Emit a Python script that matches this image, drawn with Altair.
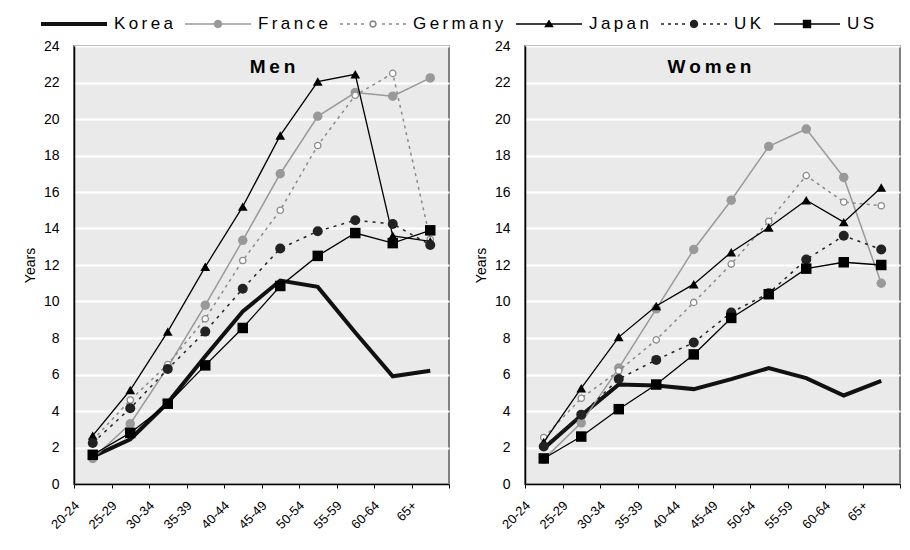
import altair as alt
import pandas as pd

ages = ["20-24", "25-29", "30-34", "35-39", "40-44", "45-49", "50-54", "55-59", "60-64", "65+"]
countries = ["Korea", "France", "Germany", "Japan", "UK", "US"]

men_korea = [1.5, 2.45, 4.45, 7.0, 9.45, 11.15, 10.8, 8.3, 5.9, 6.2]
men_france = [1.4, 3.3, 6.4, 9.8, 13.35, 17.0, 20.15, 21.45, 21.25, 22.25]
men_germany = [2.4, 4.6, 6.55, 9.05, 12.25, 15.0, 18.55, 21.3, 22.5, 13.4]
men_japan = [2.65, 5.15, 8.35, 11.9, 15.2, 19.1, 22.05, 22.45, 13.6, 13.3]
men_uk = [2.25, 4.15, 6.3, 8.35, 10.7, 12.9, 13.85, 14.45, 14.25, 13.1]
men_us = [1.6, 2.8, 4.4, 6.5, 8.55, 10.85, 12.5, 13.75, 13.2, 13.9]

women_korea = [1.95, 3.75, 5.45, 5.4, 5.2, 5.75, 6.35, 5.8, 4.85, 5.65]
women_france = [1.35, 3.35, 6.35, 9.6, 12.85, 15.55, 18.5, 19.45, 16.8, 11.0]
women_germany = [2.55, 4.7, 6.2, 7.9, 9.95, 12.05, 14.4, 16.9, 15.45, 15.25]
women_japan = [2.3, 5.25, 8.05, 9.75, 10.95, 12.7, 14.05, 15.55, 14.35, 16.25]
women_uk = [2.05, 3.8, 5.75, 6.8, 7.75, 9.4, 10.45, 12.3, 13.6, 12.85]
women_us = [1.4, 2.6, 4.1, 5.45, 7.1, 9.1, 10.4, 11.8, 12.15, 12.0]

panel_titles = ["Men", "Women"]

men = {"Korea": men_korea, "France": men_france, "Germany": men_germany,
       "Japan": men_japan, "UK": men_uk, "US": men_us}
women = {"Korea": women_korea, "France": women_france, "Germany": women_germany,
         "Japan": women_japan, "UK": women_uk, "US": women_us}


def frame(series):
    rows = []
    for c in countries:
        for i, (a, v) in enumerate(zip(ages, series[c])):
            rows.append({"country": c, "age": a, "idx": i, "years": v})
    return pd.DataFrame(rows)


FONT = "Liberation Sans"
BG = "#EAEAEA"
SP = "\u2009"
VIEW = alt.ViewBackground(fill=BG, stroke="#808080", strokeWidth=2)

styles = {
    "Korea": dict(color="#111111", width=4, dash=None, shape=None),
    "France": dict(color="#999999", width=1.5, dash=None, shape="circle", fill="#999999", size=90),
    "Germany": dict(color="#8a8a8a", width=1.5, dash=[3, 4], shape="circle", fill="#ffffff", size=40),
    "Japan": dict(color="#000000", width=1.3, dash=None, shape="triangle-up", fill="#000000", size=95),
    "UK": dict(color="#222222", width=1.5, dash=[3, 5], shape="circle", fill="#222222", size=100),
    "US": dict(color="#000000", width=1.3, dash=None, shape="square", fill="#000000", size=110),
}

# legend symbols: custom paths (unit = 12 px), line spans +-2.75 units (66 px)
U = 12.0
L = 2.75


def rect(x0, x1, h):
    return f"M{x0:.3f},{-h:.3f}L{x1:.3f},{-h:.3f}L{x1:.3f},{h:.3f}L{x0:.3f},{h:.3f}Z"


def circle(r, rev=False):
    s = 0 if rev else 1
    return f"M{r:.3f},0A{r:.3f},{r:.3f} 0 1 {s} {-r:.3f},0A{r:.3f},{r:.3f} 0 1 {s} {r:.3f},0Z"


def dashes(h, gap_center=0.45):
    d, g = 3 / U, 4 / U
    out = []
    x = -L
    while x < L:
        x1 = min(x + d, L)
        if x1 < -gap_center or x > gap_center:
            out.append(rect(x, x1, h))
        x += d + g
    return "".join(out)


thin = 0.75 / U
mr = 4.2 / U
legend_paths = [
    rect(-L, L, 2.0 / U),
    rect(-L, L, thin) + circle(mr),
    dashes(thin) + circle(mr * 0.9) + circle(mr * 0.5, rev=True),
    rect(-L, L, thin) + f"M0,{-mr*1.1:.3f}L{mr*1.15:.3f},{mr*0.8:.3f}L{-mr*1.15:.3f},{mr*0.8:.3f}Z",
    dashes(thin) + circle(mr),
    rect(-L, L, thin) + rect(-mr, mr, mr),
]
legend_colors = ["#111111", "#999999", "#8a8a8a", "#000000", "#222222", "#000000"]

legend = alt.Legend(
    title=None, orient="none", direction="horizontal", columns=6,
    legendX=-12, legendY=0,
    symbolSize=U * U * 4, symbolStrokeWidth=0, symbolOpacity=1,
    labelFont=FONT, labelFontSize=17, labelColor="#000000", labelLimit=0,
    labelOffset=28, columnPadding=12,
    labelExpr=f"join(split(datum.label, ''), '{SP}')",
)


def panel(series, title, dx):
    df = frame(series)
    base = alt.Chart(df)
    x = alt.X(
        "age:N", sort=ages, bandPosition=0.5,
        scale=alt.Scale(type="band", domain=ages, paddingInner=0, paddingOuter=0),
        axis=alt.Axis(
            title=None, labelAngle=-45, labelAlign="right", labelBaseline="middle",
            labelFont=FONT, labelFontSize=13, labelColor="#000000", labelPadding=15,
            labelOffset=-16, tickBand="extent", tickSize=4, tickColor="#000000",
            domainColor="#000000", domainWidth=1.5, grid=False, labelOverlap=False,
        ),
    )
    y = alt.Y(
        "years:Q",
        scale=alt.Scale(domain=[0, 24], nice=False, zero=True),
        axis=alt.Axis(
            values=list(range(0, 25, 2)), title="Years", titleFont=FONT, titleFontSize=14,
            titleFontWeight="normal", titleColor="#000000", titlePadding=6,
            labelFont=FONT, labelFontSize=14, labelColor="#000000", labelPadding=15,
            tickSize=0, domainColor="#000000", domainWidth=1.5,
            grid=True, gridColor="#ffffff", gridWidth=2,
        ),
    )
    layers = []
    for c in countries:
        st = styles[c]
        sub = base.transform_filter(alt.datum.country == c)
        lk = dict(color=st["color"], strokeWidth=st["width"])
        if st["dash"]:
            lk["strokeDash"] = st["dash"]
        layers.append(sub.mark_line(**lk).encode(x=x, y=y, order="idx:Q"))
        if st["shape"]:
            layers.append(
                sub.mark_point(
                    shape=st["shape"], filled=True, fill=st["fill"], stroke=st["color"],
                    strokeWidth=1.3 if c == "Germany" else 0, size=st["size"], opacity=1,
                ).encode(x=x, y=y)
            )
    tdf = pd.DataFrame({"t": [SP.join(title)]})
    layers.append(
        alt.Chart(tdf).mark_text(
            font=FONT, fontSize=19, fontWeight="bold", color="#000000",
            align="center", baseline="alphabetic",
        ).encode(text="t:N", x=alt.value(187.5 + dx), y=alt.value(27))
    )
    return alt.layer(*layers).properties(width=375, height=438, view=VIEW)


legend_chart = (
    alt.Chart(pd.DataFrame({"country": countries}))
    .transform_filter("false")
    .mark_point(filled=True, opacity=1, strokeWidth=0)
    .encode(
        shape=alt.Shape("country:N", scale=alt.Scale(domain=countries, range=legend_paths), legend=legend),
        color=alt.Color("country:N", scale=alt.Scale(domain=countries, range=legend_colors), legend=legend),
    )
    .properties(width=700, height=1,
                view=alt.ViewBackground(fill="transparent", stroke="transparent", strokeWidth=0))
)

panels = alt.hconcat(
    panel(men, panel_titles[0], 11),
    panel(women, panel_titles[1], -3),
    spacing=22,
)

chart = alt.vconcat(legend_chart, panels, spacing=6).resolve_legend(
    shape="independent", color="independent"
).properties(
    padding={"left": 22, "top": 12, "right": 5, "bottom": 5},
    background="#ffffff",
)

chart.save("out.html", embed_options={"renderer": "svg", "actions": False})
